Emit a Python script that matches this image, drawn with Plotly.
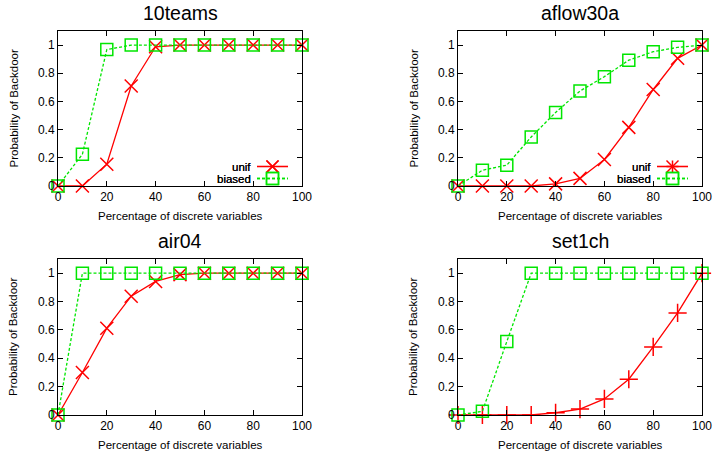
import plotly.graph_objects as go

# ---------------- data ----------------
pct = [0, 10, 20, 30, 40, 50, 60, 70, 80, 90, 100]
x_ticks = [0, 20, 40, 60, 80, 100]
y_ticks = [0, 0.2, 0.4, 0.6, 0.8, 1]
y_tick_labels = ["0", "0.2", "0.4", "0.6", "0.8", "1"]

titles = ["10teams", "aflow30a", "air04", "set1ch"]

teams_unif = [0, 0, 0.155, 0.71, 0.988, 1, 1, 1, 1, 1, 1]
teams_biased = [0, 0.225, 0.968, 1, 1, 1, 1, 1, 1, 1, 1]

aflow_unif = [0, 0, 0, 0, 0.015, 0.054, 0.188, 0.416, 0.685, 0.906, 1.0]
aflow_biased = [0, 0.112, 0.148, 0.348, 0.522, 0.674, 0.776, 0.893, 0.953, 0.984, 1.0]

air_unif = [0, 0.30, 0.612, 0.838, 0.942, 0.99, 1, 1, 1, 1, 1]
air_biased = [0, 1, 1, 1, 1, 1, 1, 1, 1, 1, 1]

set_unif = [0, 0, 0, 0, 0.016, 0.042, 0.113, 0.252, 0.48, 0.72, 1.0]
set_biased = [0, 0.026, 0.518, 1, 1, 1, 1, 1, 1, 1, 1]

series_unif = [teams_unif, aflow_unif, air_unif, set_unif]
series_biased = [teams_biased, aflow_biased, air_biased, set_biased]
unif_symbols = ["x-thin-open", "x-thin-open", "x-thin-open", "cross-thin-open"]

legend_names = ["unif", "biased"]
x_title = "Percentage of discrete variables"
y_title = "Probability of Backdoor"

# ---------------- style / layout ----------------
W, H = 713, 453
RED = "#ff0000"
GREEN = "#00e600"
FONT = "Liberation Sans, Arial, sans-serif"

# pixel frames: (left, right, top, bottom)
frames = [(58, 302, 31, 186), (458, 702, 31, 186),
          (58, 302, 259, 415), (458, 702, 259, 415)]

fig = go.Figure()
layout = dict(width=W, height=H, margin=dict(l=0, r=0, t=0, b=0, autoexpand=False),
              paper_bgcolor="white", plot_bgcolor="white", showlegend=False,
              font=dict(family=FONT, color="black"))
annotations = []
shapes = []

for i, (l, r, t, b) in enumerate(frames):
    n = "" if i == 0 else str(i + 1)
    xa, ya = "x" + n, "y" + n
    common = dict(showline=True, linecolor="black", linewidth=1, mirror="ticks",
                  ticks="inside", ticklen=5, tickwidth=1, tickcolor="black",
                  showgrid=False, zeroline=False, automargin=False,
                  tickfont=dict(family=FONT, size=12, color="black"))
    layout["xaxis" + n] = dict(domain=[l / W, r / W], range=[0, 100],
                               tickvals=x_ticks, anchor=ya, **common)
    layout["yaxis" + n] = dict(domain=[1 - b / H, 1 - t / H], range=[0, 1.1],
                               tickvals=y_ticks, ticktext=y_tick_labels,
                               anchor=xa, **common)

    fig.add_trace(go.Scatter(
        x=pct, y=series_unif[i], xaxis=xa, yaxis=ya, mode="lines+markers",
        name=legend_names[0], cliponaxis=False,
        line=dict(color=RED, width=1.3),
        marker=dict(symbol=unif_symbols[i], size=13, color=RED,
                    line=dict(color=RED, width=1.5))))
    fig.add_trace(go.Scatter(
        x=pct, y=series_biased[i], xaxis=xa, yaxis=ya, mode="lines+markers",
        name=legend_names[1], cliponaxis=False,
        line=dict(color=GREEN, width=1.3, dash="3px,2px"),
        marker=dict(symbol="square-open", size=12, color=GREEN,
                    line=dict(color=GREEN, width=1.5))))

    cx = (l + r) / 2
    cy = (t + b) / 2
    # subplot title
    annotations.append(dict(text=titles[i], x=cx / W, y=1 - (t - 18) / H,
                            xref="paper", yref="paper", showarrow=False,
                            xanchor="center", yanchor="middle",
                            font=dict(family=FONT, size=19.5, color="black")))
    # axis titles
    annotations.append(dict(text=x_title, x=cx / W, y=1 - (b + 30) / H,
                            xref="paper", yref="paper", showarrow=False,
                            xanchor="center", yanchor="middle",
                            font=dict(family=FONT, size=11.5, color="black")))
    annotations.append(dict(text=y_title, x=(l - 45) / W, y=1 - cy / H,
                            xref="paper", yref="paper", showarrow=False,
                            textangle=-90, xanchor="center", yanchor="middle",
                            font=dict(family=FONT, size=11.5, color="black")))

    # legend drawn in gnuplot style (text, then sample line with marker)
    pw, ph = r - l, b - t
    xd, yd = xa + " domain", ya + " domain"
    text_right = (252 - 58) / pw
    line_x0, line_x1 = (257 - 58) / pw, (288 - 58) / pw
    mx = (line_x0 + line_x1) / 2
    rows = [(b - 166.5), (b - 178.5)]
    hs = 6.0
    for k, (name, color) in enumerate([(legend_names[0], RED), (legend_names[1], GREEN)]):
        yy = rows[k] / ph
        annotations.append(dict(text=name, x=text_right, y=yy, xref=xd, yref=yd,
                                showarrow=False, xanchor="right", yanchor="middle",
                                borderpad=0,
                                font=dict(family=FONT, size=11.5, color="black")))
        shapes.append(dict(type="line", xref=xd, yref=yd, x0=line_x0, x1=line_x1,
                           y0=yy, y1=yy,
                           line=dict(color=color, width=1.3,
                                     dash="solid" if k == 0 else "3px,2px")))
        dx, dy = hs / pw, hs / ph
        if k == 0:
            if unif_symbols[i].startswith("x"):
                shapes.append(dict(type="line", xref=xd, yref=yd, x0=mx - dx, x1=mx + dx,
                                   y0=yy - dy, y1=yy + dy, line=dict(color=RED, width=1.5)))
                shapes.append(dict(type="line", xref=xd, yref=yd, x0=mx - dx, x1=mx + dx,
                                   y0=yy + dy, y1=yy - dy, line=dict(color=RED, width=1.5)))
            else:
                shapes.append(dict(type="line", xref=xd, yref=yd, x0=mx - dx, x1=mx + dx,
                                   y0=yy, y1=yy, line=dict(color=RED, width=1.5)))
                shapes.append(dict(type="line", xref=xd, yref=yd, x0=mx, x1=mx,
                                   y0=yy - dy, y1=yy + dy, line=dict(color=RED, width=1.5)))
        else:
            shapes.append(dict(type="rect", xref=xd, yref=yd, x0=mx - dx, x1=mx + dx,
                               y0=yy - dy, y1=yy + dy, line=dict(color=GREEN, width=1.5)))

layout["annotations"] = annotations
layout["shapes"] = shapes
fig.update_layout(**layout)
fig.write_html(
    "out.html",
    config={"displayModeBar": False},
    post_script="document.body.style.margin='0';document.body.style.padding='0';"
                "document.body.style.overflow='hidden';",
)
